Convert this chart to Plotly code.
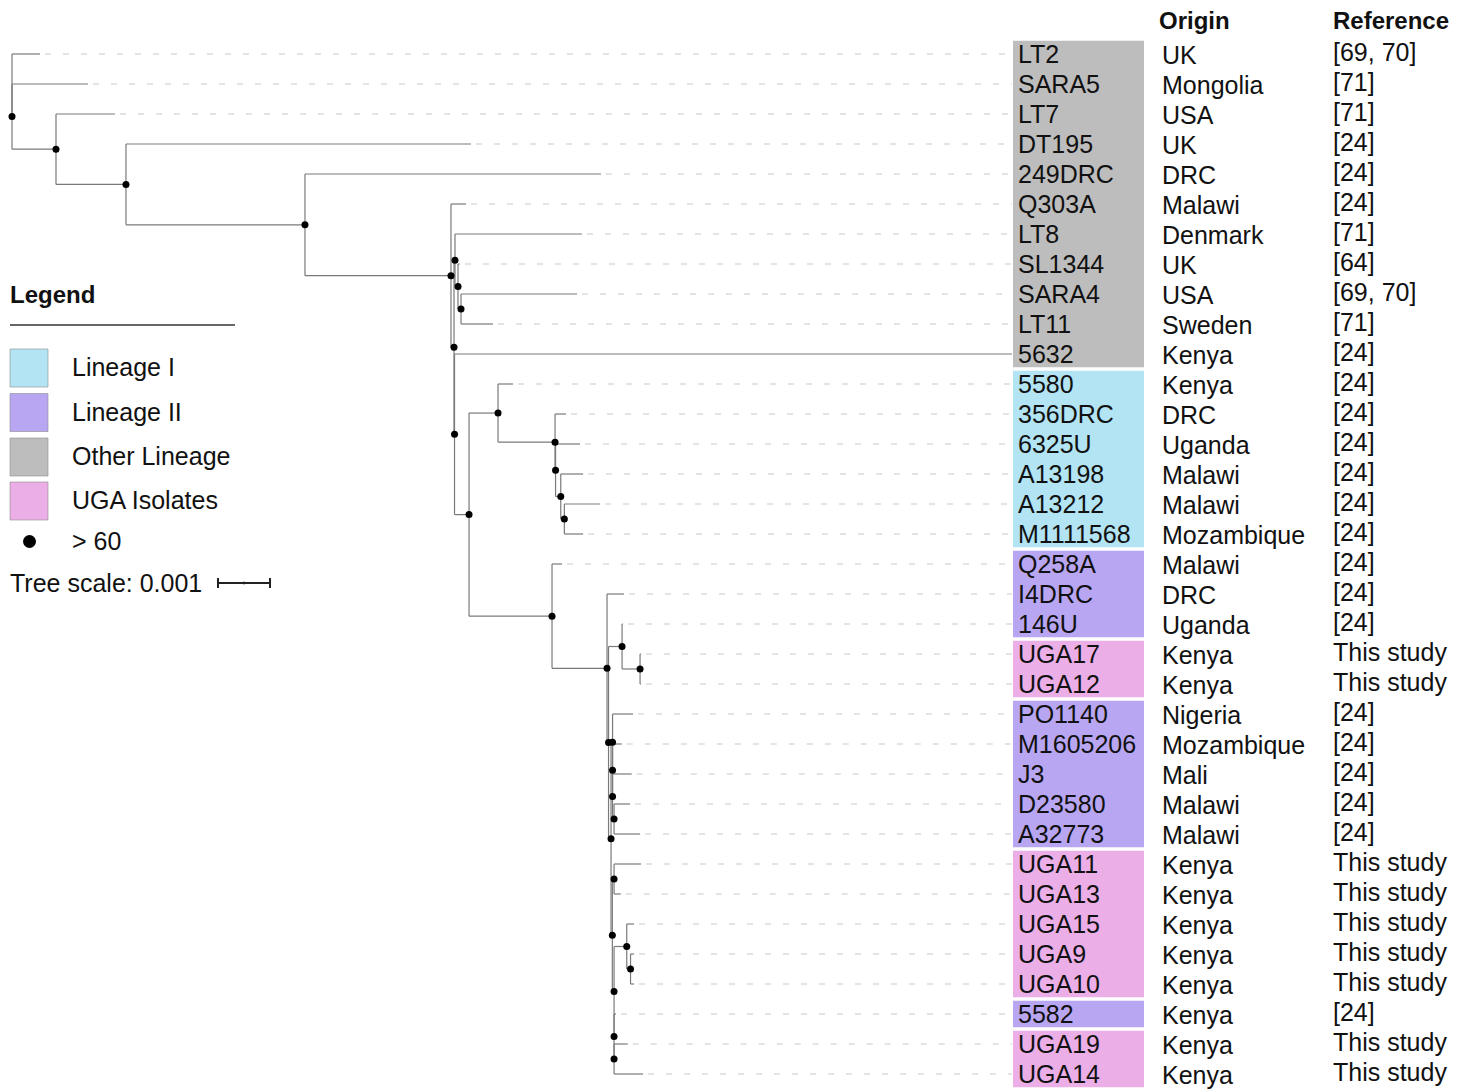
import plotly.graph_objects as go

# ---------------- DATA ----------------
leaf_names = ["LT2", "SARA5", "LT7", "DT195", "249DRC", "Q303A", "LT8", "SL1344", "SARA4", "LT11",
              "5632", "5580", "356DRC", "6325U", "A13198", "A13212", "M1111568", "Q258A", "I4DRC",
              "146U", "UGA17", "UGA12", "PO1140", "M1605206", "J3", "D23580", "A32773", "UGA11",
              "UGA13", "UGA15", "UGA9", "UGA10", "5582", "UGA19", "UGA14"]
origins = ["UK", "Mongolia", "USA", "UK", "DRC", "Malawi", "Denmark", "UK", "USA", "Sweden",
           "Kenya", "Kenya", "DRC", "Uganda", "Malawi", "Malawi", "Mozambique", "Malawi", "DRC",
           "Uganda", "Kenya", "Kenya", "Nigeria", "Mozambique", "Mali", "Malawi", "Malawi", "Kenya",
           "Kenya", "Kenya", "Kenya", "Kenya", "Kenya", "Kenya", "Kenya"]
references = ["[69, 70]", "[71]", "[71]", "[24]", "[24]", "[24]", "[71]", "[64]", "[69, 70]", "[71]",
              "[24]", "[24]", "[24]", "[24]", "[24]", "[24]", "[24]", "[24]", "[24]",
              "[24]", "This study", "This study", "[24]", "[24]", "[24]", "[24]", "[24]", "This study",
              "This study", "This study", "This study", "This study", "[24]", "This study", "This study"]
groups = ["Other Lineage"] * 11 + ["Lineage I"] * 6 + ["Lineage II"] * 3 + ["UGA Isolates"] * 2 + \
         ["Lineage II"] * 5 + ["UGA Isolates"] * 5 + ["Lineage II"] + ["UGA Isolates"] * 2

group_names = ["Lineage I", "Lineage II", "Other Lineage", "UGA Isolates"]
group_colors = ["#b2e4f4", "#b9a6f3", "#bdbdbd", "#ebaee7"]

# tree topology: node id, parent id, branch length (substitutions/site)
node_ids = ["root", "LT2", "R", "SARA5", "A", "LT7", "B", "DT195", "C", "249DRC", "D", "Q303A",
            "X", "Y", "LT8", "W", "SL1344", "V", "SARA4", "LT11", "Z", "5632", "U",
            "L1", "5580", "S", "356DRC", "Qn", "6325U", "P", "A13198", "O", "A13212", "M1111568",
            "T", "Q258A", "K", "I4DRC", "H", "J", "146U", "I", "UGA17", "UGA12",
            "Q", "G", "PO1140", "c", "M1605206", "b", "J3", "a", "D23580", "A32773",
            "N4", "N5", "UGA11", "UGA13", "N3", "M", "UGA15", "m2", "UGA9", "UGA10",
            "N2", "5582", "N1", "UGA19", "UGA14"]
node_parents = [None, "root", "root", "R", "R", "A", "A", "B", "B", "C", "C", "D",
                "D", "X", "Y", "Y", "W", "W", "V", "V", "X", "Z", "Z",
                "U", "L1", "L1", "S", "S", "Qn", "Qn", "P", "P", "O", "O",
                "U", "T", "T", "K", "K", "H", "J", "J", "I", "I",
                "H", "Q", "G", "G", "c", "c", "b", "b", "a", "a",
                "Q", "N4", "N5", "N5", "N4", "N3", "M", "M", "m2", "m2",
                "N3", "N2", "N2", "N1", "N1"]
branch_len = [0.0, 0.000538, 0.0, 0.001462, 0.000846, 0.001135, 0.001346, 0.006635, 0.003442,
              0.005692, 0.002808, 0.000288, 0.000058, 0.000019, 0.002442, 0.000058, 0.000038,
              0.000058, 0.002231, 0.000615, 0.00001, 0.010721, 0.000279,
              0.000558, 0.000288, 0.001096, 0.000212, 0.00001, 0.000471, 0.0001, 0.000429,
              0.000069, 0.000687, 0.00036,
              0.001596, 0.000192, 0.001058, 0.000327, 0.000029, 0.00026, 0.000019, 0.000346,
              0.000019, 0.000019,
              0.000048, 0.000029, 0.000394, 0.0, 0.000177, 0.0, 0.000369, 0.000029, 0.000308, 0.0005,
              0.000025, 0.000033, 0.000519, 0.000129, 0.000033, 0.000244, 0.00014, 0.000073,
              0.000067, 0.000067,
              0.0, 0.000038, 0.0, 0.000263, 0.000558]
# internal nodes with bootstrap support > 60
supported_nodes = ["R", "A", "B", "C", "D", "X", "Y", "W", "V", "Z", "U", "L1", "S", "Qn", "P", "O",
                   "T", "K", "H", "J", "I", "Q", "G", "c", "b", "a", "N4", "N5", "N3", "M", "m2",
                   "N2", "N1"]
scale_value = 0.001

# ---------------- LAYOUT CONSTANTS ----------------
W, H = 1468, 1089
PX_PER_UNIT = 52000.0      # pixels per substitution/site
X0_PX = 12                 # root x position (px)
ROW0_PX, ROW_PX = 54, 30   # first leaf y (px), row spacing


def px2x(px):
    return px / W


def py2y(py):
    return 1 - py / H


def row_of_py(py):
    return (py - ROW0_PX) / ROW_PX


FONT = "Liberation Sans, Arial, Helvetica, sans-serif"
LBL = 25

# ---------------- TREE LAYOUT ----------------
parent = dict(zip(node_ids, node_parents))
blen = dict(zip(node_ids, branch_len))
children = {n: [] for n in node_ids}
for n, p in zip(node_ids, node_parents):
    if p is not None:
        children[p].append(n)

depth = {}
for n in node_ids:  # parents precede children in the list
    p = parent[n]
    depth[n] = 0.0 if p is None else depth[p] + blen[n]

ypos = {}


def compute_y(n):
    if not children[n]:
        ypos[n] = leaf_names.index(n)
        return ypos[n]
    ys = [compute_y(c) for c in children[n]]
    ypos[n] = (min(ys) + max(ys)) / 2.0
    return ypos[n]


compute_y("root")

bx, by = [], []
for n in node_ids:
    p = parent[n]
    if p is not None:
        bx += [depth[p], depth[n], None]
        by += [ypos[n], ypos[n], None]
    if children[n]:
        cys = [ypos[c] for c in children[n]]
        bx += [depth[n], depth[n], None]
        by += [min(cys), max(cys), None]

label_depth = (1012 - X0_PX) / PX_PER_UNIT
dx, dy = [], []
for i, name in enumerate(leaf_names):
    start = depth[name] + 5 / PX_PER_UNIT
    if start < label_depth - 5 / PX_PER_UNIT:
        dx += [start, label_depth, None]
        dy += [i, i, None]

fig = go.Figure()
fig.add_trace(go.Scatter(x=dx, y=dy, mode="lines",
                         line=dict(color="#c9c9c9", width=1, dash="6px,12px"),
                         hoverinfo="skip"))
fig.add_trace(go.Scatter(x=bx, y=by, mode="lines",
                         line=dict(color="#7a7a7a", width=1.2), hoverinfo="skip"))
fig.add_trace(go.Scatter(x=[depth[n] for n in supported_nodes],
                         y=[ypos[n] for n in supported_nodes], mode="markers",
                         marker=dict(color="black", size=7), hoverinfo="skip"))

# scale bar in data units
sb_x0 = (218 - X0_PX) / PX_PER_UNIT
sb_y = row_of_py(583)
tick = 5 / ROW_PX
fig.add_trace(go.Scatter(
    x=[sb_x0, sb_x0 + scale_value, None, sb_x0, sb_x0, None, sb_x0 + scale_value, sb_x0 + scale_value,
       None, sb_x0 + scale_value / 2, sb_x0 + scale_value / 2],
    y=[sb_y, sb_y, None, sb_y - tick, sb_y + tick, None, sb_y - tick, sb_y + tick, None,
       sb_y - 0.04, sb_y + 0.04],
    mode="lines", line=dict(color="#222222", width=2), hoverinfo="skip"))

shapes = []
annotations = []

# colored label boxes (contiguous runs of the same group)
runs = []
start = 0
for i in range(1, len(groups) + 1):
    if i == len(groups) or groups[i] != groups[start]:
        runs.append((start, i - 1, groups[start]))
        start = i
for a, b, g in runs:
    shapes.append(dict(type="rect", xref="paper", yref="y",
                       x0=px2x(1013), x1=px2x(1144), y0=a - 0.5 + 0.06, y1=b + 0.5 - 0.06,
                       fillcolor=group_colors[group_names.index(g)], line=dict(width=0),
                       layer="below"))

for i, name in enumerate(leaf_names):
    annotations.append(dict(x=px2x(1016), y=i, xref="paper", yref="y", text=name, showarrow=False,
                            xanchor="left", yanchor="middle",
                            font=dict(family=FONT, size=LBL, color="#111")))
    annotations.append(dict(x=px2x(1160), y=i + 0.03, xref="paper", yref="y", text=origins[i],
                            showarrow=False, xanchor="left", yanchor="middle",
                            font=dict(family=FONT, size=LBL, color="#111")))
    annotations.append(dict(x=px2x(1331), y=i - 0.06, xref="paper", yref="y", text=references[i],
                            showarrow=False, xanchor="left", yanchor="middle",
                            font=dict(family=FONT, size=LBL, color="#111")))

annotations.append(dict(x=px2x(1157), y=py2y(20), xref="paper", yref="paper", text="<b>Origin</b>",
                        showarrow=False, xanchor="left", yanchor="middle",
                        font=dict(family=FONT, size=24, color="#111")))
annotations.append(dict(x=px2x(1331), y=py2y(20), xref="paper", yref="paper", text="<b>Reference</b>",
                        showarrow=False, xanchor="left", yanchor="middle",
                        font=dict(family=FONT, size=24, color="#111")))

# legend
annotations.append(dict(x=px2x(8), y=py2y(294), xref="paper", yref="paper", text="<b>Legend</b>",
                        showarrow=False, xanchor="left", yanchor="middle",
                        font=dict(family=FONT, size=24, color="#111")))
shapes.append(dict(type="line", xref="paper", yref="paper", x0=px2x(10), x1=px2x(235),
                   y0=py2y(325), y1=py2y(325), line=dict(color="#333", width=1.5)))
legend_tops = [349, 393.5, 438, 482]
for g, c, top in zip(group_names, group_colors, legend_tops):
    shapes.append(dict(type="rect", xref="paper", yref="paper", x0=px2x(10), x1=px2x(48),
                       y0=py2y(top), y1=py2y(top + 38), fillcolor=c,
                       line=dict(color="rgba(140,140,140,0.6)", width=1)))
    annotations.append(dict(x=px2x(70), y=py2y(top + 18), xref="paper", yref="paper", text=g,
                            showarrow=False, xanchor="left", yanchor="middle",
                            font=dict(family=FONT, size=LBL, color="#111")))
shapes.append(dict(type="circle", xref="paper", yref="paper", x0=px2x(23), x1=px2x(36),
                   y0=py2y(535), y1=py2y(548), fillcolor="black", line=dict(width=0)))
annotations.append(dict(x=px2x(70), y=py2y(541), xref="paper", yref="paper", text="> 60",
                        showarrow=False, xanchor="left", yanchor="middle",
                        font=dict(family=FONT, size=LBL, color="#111")))
annotations.append(dict(x=px2x(8), y=py2y(583), xref="paper", yref="paper",
                        text="Tree scale: 0.001", showarrow=False, xanchor="left",
                        yanchor="middle", font=dict(family=FONT, size=LBL, color="#111")))

fig.update_layout(
    width=W, height=H, margin=dict(l=0, r=0, t=0, b=0),
    paper_bgcolor="white", plot_bgcolor="white", showlegend=False,
    xaxis=dict(range=[-X0_PX / PX_PER_UNIT, (W - X0_PX) / PX_PER_UNIT], visible=False,
               fixedrange=True),
    yaxis=dict(range=[row_of_py(H), row_of_py(0)], visible=False, fixedrange=True),
    shapes=shapes, annotations=annotations,
)

fig.write_html("out.html", config={"displayModeBar": False},
               post_script="document.body.style.margin='0';document.body.style.overflow='hidden';")
